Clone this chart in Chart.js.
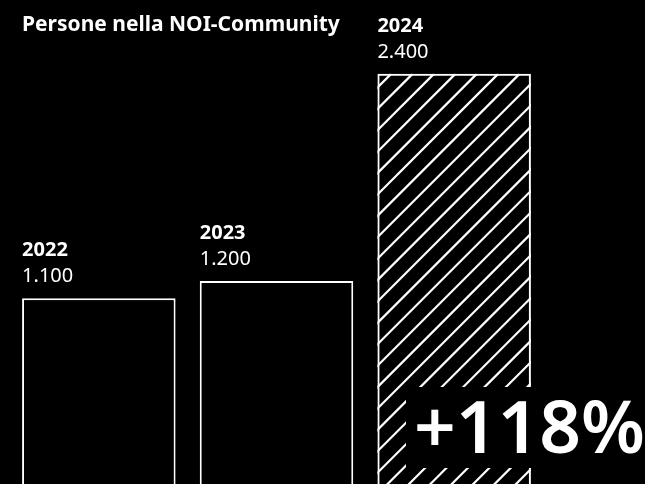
<!DOCTYPE html>
<html>
<head>
<meta charset="utf-8">
<script src="https://cdn.jsdelivr.net/npm/chart.js@4"></script>
<style>
  html, body { margin: 0; padding: 0; background: #000; overflow: hidden; }
  #wrap { position: relative; width: 645px; height: 488px; }
</style>
</head>
<body>
<div id="wrap"><canvas id="chart"></canvas></div>
<script>
const title = "Persone nella NOI-Community";
const years = ["2022", "2023", "2024"];
const people = [1100, 1200, 2400];
const hatched = [false, false, true];

const FONT = "'Noto Sans', sans-serif";

function fmt(n) {
  return String(n).replace(/\B(?=(\d{3})+(?!\d))/g, ".");
}

const growth = Math.round((people[2] - people[0]) / people[0] * 100);

// hatch lines + labels above bars
const barLabels = {
  id: "barLabels",
  beforeDatasetsDraw(chart) {
    const ctx = chart.ctx;
    chart.getDatasetMeta(0).data.forEach((bar, i) => {
      if (!hatched[i]) return;
      const left = bar.x - bar.width / 2;
      const right = bar.x + bar.width / 2;
      const top = bar.y;
      const bottom = bar.base;
      ctx.save();
      ctx.beginPath();
      ctx.rect(left, top, right - left, bottom - top);
      ctx.clip();
      ctx.strokeStyle = "#fff";
      ctx.lineWidth = 2.2;
      const step = 21.4;
      const start = 465 - Math.ceil((465 - (left + top)) / step) * step;
      for (let c = start; c < right + bottom + step; c += step) {
        ctx.beginPath();
        ctx.moveTo(c - top, top);
        ctx.lineTo(c - bottom, bottom);
        ctx.stroke();
      }
      ctx.restore();
    });
  },
  afterDatasetsDraw(chart) {
    const ctx = chart.ctx;
    ctx.save();
    ctx.fillStyle = "#fff";
    ctx.textAlign = "left";
    ctx.textBaseline = "alphabetic";
    ctx.font = "bold 21px " + FONT;
    ctx.fillText(title, 22, 31);
    chart.getDatasetMeta(0).data.forEach((bar, i) => {
      const x = bar.x - bar.width / 2;
      ctx.font = "bold 20px " + FONT;
      ctx.fillText(years[i], x, bar.y - 42);
      ctx.font = "20px " + FONT;
      ctx.fillText(fmt(people[i]), x, bar.y - 16);
    });
    // big growth badge
    ctx.fillStyle = "#000";
    ctx.fillRect(406, 387, 245, 81);
    ctx.fillStyle = "#fff";
    ctx.font = "600 73px " + FONT;
    ctx.fillText("+" + growth + "%", 414, 453);
    ctx.restore();
  }
};

new Chart(document.getElementById("chart"), {
  type: "bar",
  data: {
    labels: years,
    datasets: [{
      data: people,
      backgroundColor: hatched.map(h => h ? "rgba(0,0,0,0)" : "#000"),
      borderColor: "#fff",
      borderWidth: 2,
      borderSkipped: "bottom",
      categoryPercentage: 1,
      barPercentage: 0.864
    }]
  },
  options: {
    responsive: true,
    maintainAspectRatio: false,
    animation: false,
    layout: { padding: { left: 10, right: 102, top: 0, bottom: 0 } },
    plugins: { legend: { display: false }, tooltip: { enabled: false } },
    scales: {
      x: { display: false },
      y: { display: false, min: 0, max: 2828 }
    }
  },
  plugins: [barLabels]
});
</script>
</body>
</html>
